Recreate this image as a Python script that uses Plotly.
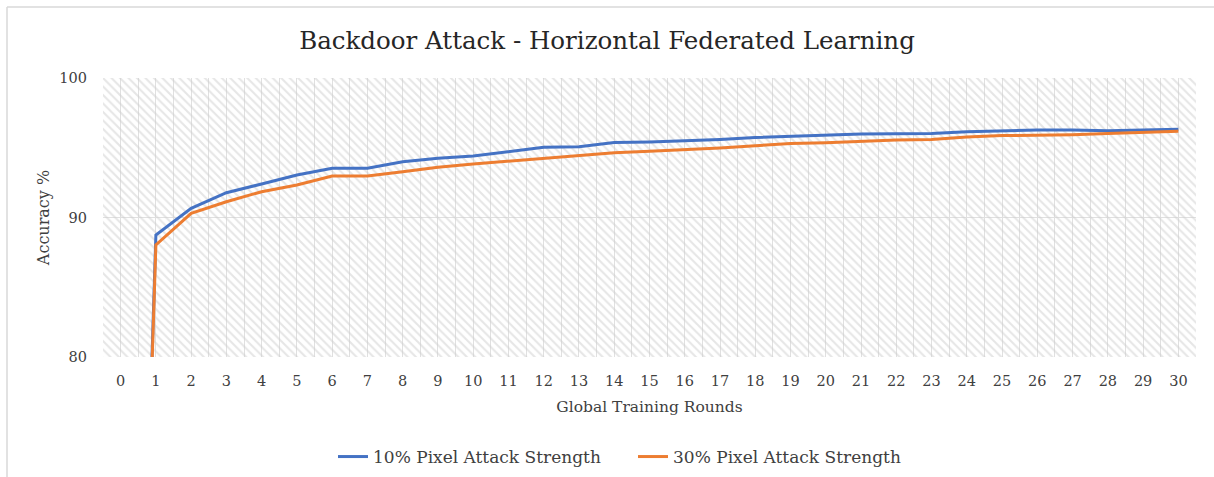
import plotly.graph_objects as go

# Global training rounds and model accuracy (%) under each backdoor strength
rounds = list(range(0, 31))
acc_10 = [9.8, 88.75, 90.66, 91.78, 92.4, 93.05, 93.53, 93.53, 94.0, 94.24,
          94.41, 94.7, 95.03, 95.08, 95.37, 95.42, 95.49, 95.6, 95.74, 95.82,
          95.91, 95.99, 96.0, 96.03, 96.14, 96.2, 96.27, 96.27, 96.22, 96.27,
          96.32]
acc_30 = [10.1, 88.03, 90.3, 91.13, 91.85, 92.33, 92.97, 92.97, 93.28, 93.6,
          93.84, 94.05, 94.22, 94.48, 94.65, 94.75, 94.86, 94.99, 95.15, 95.3,
          95.36, 95.48, 95.56, 95.6, 95.77, 95.87, 95.9, 95.94, 96.03, 96.08,
          96.18]
series_names = ["10% Pixel Attack Strength", "30% Pixel Attack Strength"]
y_ticks = [80, 90, 100]

FONT = "DejaVu Serif"
TXT = "#404040"
W, H = 1214, 477
L, R, T, B = 103, 18, 78, 120

pw, ph = W - L - R, H - T - B
px = lambda v: (v - L) / pw
py = lambda v: (H - B - v) / ph

fig = go.Figure()

# hatched plot-area background
fig.add_trace(go.Bar(
    x=[(rounds[0] + rounds[-1]) / 2], y=[y_ticks[-1] - y_ticks[0]], base=[y_ticks[0]],
    width=[len(rounds)],
    marker=dict(color="rgba(0,0,0,0)", line=dict(width=0),
                pattern=dict(shape="\\", fgcolor="#cdcdcd", size=6, solidity=0.35,
                             fillmode="overlay")),
    showlegend=False, hoverinfo="skip",
))

fig.add_trace(go.Scatter(x=rounds, y=acc_10, mode="lines", name=series_names[0],
                         line=dict(color="#4472C4", width=3)))
fig.add_trace(go.Scatter(x=rounds, y=acc_30, mode="lines", name=series_names[1],
                         line=dict(color="#ED7D31", width=3)))

half_steps = [r - 0.5 for r in rounds] + [rounds[-1] + 0.5]

fig.update_layout(
    width=W, height=H,
    margin=dict(l=L, r=R, t=T, b=B, autoexpand=False),
    paper_bgcolor="white", plot_bgcolor="white",
    font=dict(family=FONT, size=14, color=TXT),
    title=dict(text="Backdoor Attack - Horizontal Federated Learning",
               x=0.5, xanchor="center", y=1 - 40 / H, yanchor="middle",
               font=dict(family=FONT, size=24.5, color="#262626")),
    xaxis=dict(range=[rounds[0] - 0.5, rounds[-1] + 0.5], tickmode="array",
               tickvals=rounds, ticktext=[str(r) for r in rounds],
               tickfont=dict(family=FONT, size=14.5, color=TXT),
               showgrid=True, gridcolor="#e0e0e0", gridwidth=1,
               minor=dict(tickmode="array", tickvals=half_steps, showgrid=True,
                          gridcolor="#e0e0e0", gridwidth=1),
               zeroline=False, showline=False, ticks="",
               ticklabelstandoff=13,
               title=dict(text="Global Training Rounds", standoff=13,
                          font=dict(family=FONT, size=15.5, color=TXT))),
    yaxis=dict(range=[y_ticks[0], y_ticks[-1]], tickmode="array", tickvals=y_ticks,
               tickfont=dict(family=FONT, size=14.5, color=TXT),
               showgrid=True, gridcolor="#e0e0e0", gridwidth=1,
               zeroline=False, showline=False, ticks="", ticklabelstandoff=15,
               title=dict(text="Accuracy %", standoff=5,
                          font=dict(family=FONT, size=16, color=TXT))),
    legend=dict(orientation="h", x=px(333), xanchor="left",
                yref="container", y=1 - 457 / H, yanchor="middle",
                font=dict(family=FONT, size=17, color=TXT),
                itemwidth=30, entrywidth=255, entrywidthmode="pixels"),
    showlegend=True,
    bargap=0,
)

# outer chart frame (top and left edges)
fig.add_shape(type="line", xref="paper", yref="paper", x0=px(7), x1=px(W + 10),
              y0=py(7), y1=py(7), line=dict(color="#d9d9d9", width=1.5))
fig.add_shape(type="line", xref="paper", yref="paper", x0=px(7), x1=px(7),
              y0=py(7), y1=py(H + 10), line=dict(color="#d9d9d9", width=1.5))

fig.write_html("out.html")
